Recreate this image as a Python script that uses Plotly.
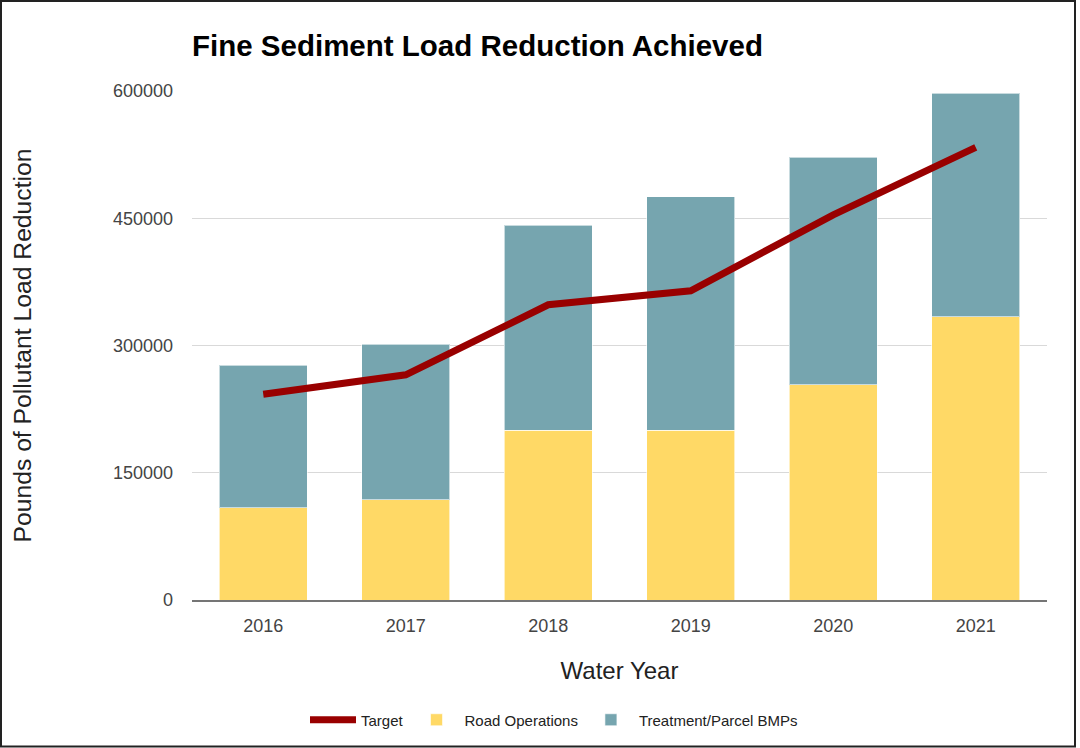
import plotly.graph_objects as go

years = ["2016", "2017", "2018", "2019", "2020", "2021"]
road_operations = [109000, 118000, 200000, 200000, 254000, 334000]
treatment_parcel = [168000, 183500, 242000, 275500, 268000, 263500]
target = [242500, 265500, 348000, 364500, 454000, 533500]
y_ticks = [0, 150000, 300000, 450000, 600000]

W, H = 1080, 748
L, R, T, B = 192, 33, 91, 148
PW, PH = W - L - R, H - T - B
FONT = "Liberation Sans, Arial, sans-serif"

fig = go.Figure()
fig.add_trace(go.Bar(
    x=years, y=road_operations, name="Road Operations",
    marker=dict(color="#ffd966", line=dict(color="rgba(255,255,255,0.6)", width=1)),
    legendrank=2,
))
fig.add_trace(go.Bar(
    x=years, y=treatment_parcel, name="Treatment/Parcel BMPs",
    marker=dict(color="#76a5af", line=dict(color="rgba(255,255,255,0.6)", width=1)),
    legendrank=3,
))
fig.add_trace(go.Scatter(
    x=years, y=target, name="Target", mode="lines",
    line=dict(color="#990000", width=7),
    legendrank=1,
))

def px_x(px):
    return (px - L) / PW

def px_y(py):
    return (H - B - py) / PH

fig.update_layout(
    width=W, height=H,
    margin=dict(l=L, r=R, t=T, b=B, autoexpand=False),
    barmode="stack", bargap=0.382,
    paper_bgcolor="white", plot_bgcolor="white",
    font=dict(family=FONT, color="#444444"),
    title=dict(
        text="<b>Fine Sediment Load Reduction Achieved</b>",
        font=dict(family=FONT, size=29.5, color="#000000"),
        xref="paper", x=0, xanchor="left",
        yref="container", y=1 - 46 / H, yanchor="middle",
    ),
    xaxis=dict(
        type="category",
        showgrid=False,
        showline=True, linecolor="#757575", linewidth=2,
        tickfont=dict(size=18, color="#444444"),
        ticklabelstandoff=8,
        title=dict(text="Water Year", font=dict(size=24, color="#222222"), standoff=28),
    ),
    yaxis=dict(
        range=[0, 600000],
        tickvals=y_ticks,
        ticktext=[str(v) for v in y_ticks],
        showgrid=True, gridcolor="#d9d9d9", gridwidth=1,
        zeroline=False,
        showline=False,
        tickfont=dict(size=18, color="#444444"),
        ticklabelstandoff=18,
        title=dict(text="Pounds of Pollutant Load Reduction", font=dict(size=24.7, color="#222222"), standoff=74),
    ),
    legend=dict(
        orientation="h",
        x=px_x(305), xanchor="left",
        y=px_y(720), yanchor="middle",
        font=dict(size=15, color="#222222"),
        traceorder="normal",
        itemwidth=46,
        bgcolor="rgba(0,0,0,0)",
    ),
    showlegend=True,
    shapes=[dict(
        type="rect", xref="paper", yref="paper",
        x0=px_x(1), x1=px_x(1075), y0=px_y(746.5), y1=px_y(1),
        line=dict(color="#222222", width=2), fillcolor="rgba(0,0,0,0)",
        layer="above",
    )],
)

fig.write_html("out.html")
